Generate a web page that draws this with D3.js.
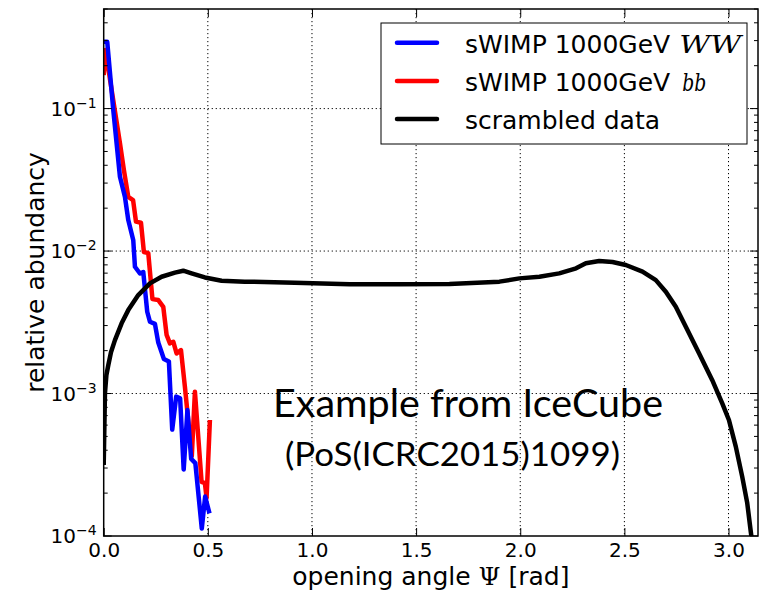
<!DOCTYPE html>
<html>
<head>
<meta charset="UTF-8">
<script src="https://d3js.org/d3.v7.min.js"></script>
<style>
  body { margin: 0; background: #fff; }
  svg { display: block; font-family: "DejaVu Sans", sans-serif; }
</style>
</head>
<body>
<svg width="763" height="593"></svg>
<script>
// opening angle (rad) and relative abundancy
const wwAngle = [0, 0.017, 0.046, 0.078, 0.102, 0.118, 0.142, 0.150, 0.174, 0.190, 0.209, 0.222, 0.246, 0.262, 0.289, 0.313, 0.329, 0.348, 0.367, 0.384, 0.402, 0.420, 0.440, 0.471, 0.487, 0.508];
const wwValue = [0.294, 0.294, 0.0975, 0.0332, 0.024, 0.0165, 0.0119, 0.00776, 0.00696, 0.00713, 0.00375, 0.00319, 0.00308, 0.00228, 0.00175, 0.00168, 0.000558, 0.000951, 0.000925, 0.000293, 0.000765, 0.000348, 0.000325, 0.000113, 0.000189, 0.000144];

const bbAngle = [0, 0.009, 0.030, 0.054, 0.078, 0.097, 0.118, 0.141, 0.155, 0.179, 0.193, 0.214, 0.234, 0.262, 0.286, 0.302, 0.318, 0.334, 0.350, 0.371, 0.390, 0.423, 0.438, 0.470, 0.486, 0.494, 0.510];
const bbValue = [0.172, 0.258, 0.161, 0.096, 0.0573, 0.037, 0.024, 0.0228, 0.0161, 0.0158, 0.00984, 0.00968, 0.0046, 0.00453, 0.00406, 0.00258, 0.00225, 0.00231, 0.00191, 0.00202, 0.00111, 0.000364, 0.00103, 0.00024, 0.000235, 0.000185, 0.000652];

const scrAngle = [0, 0.006, 0.013, 0.022, 0.035, 0.054, 0.086, 0.118, 0.166, 0.222, 0.278, 0.342, 0.382, 0.422, 0.486, 0.566, 0.677, 0.917, 1.181, 1.420, 1.660, 1.900, 1.996, 2.092, 2.187, 2.268, 2.315, 2.379, 2.443, 2.507, 2.587, 2.651, 2.699, 2.747, 2.795, 2.859, 2.922, 2.970, 3.002, 3.035, 3.066, 3.090, 3.106, 3.118];
const scrValue = [0.000315, 0.001, 0.00135, 0.00158, 0.00195, 0.00237, 0.00311, 0.00385, 0.00491, 0.00593, 0.0066, 0.00705, 0.00728, 0.00697, 0.00653, 0.00619, 0.0061, 0.006, 0.00585, 0.00584, 0.00588, 0.0061, 0.00643, 0.0066, 0.00697, 0.00756, 0.0082, 0.00851, 0.00838, 0.00798, 0.00717, 0.00625, 0.00518, 0.00406, 0.00294, 0.00191, 0.00124, 0.000853, 0.000652, 0.000424, 0.00026, 0.00017, 0.00011, 0.00008];

const xTicks = [0, 0.5, 1, 1.5, 2, 2.5, 3];
const yDecades = [1e-4, 1e-3, 1e-2, 1e-1];

const series = [
  { label: "sWIMP 1000GeV", math: "WW", mathGap: 9, mathW: 62, color: "#0000ff", angle: wwAngle, value: wwValue },
  { label: "sWIMP 1000GeV", math: "bb", mathGap: 12, mathW: 24, color: "#ff0000", angle: bbAngle, value: bbValue },
  { label: "scrambled data", math: "", color: "#000000", angle: scrAngle, value: scrValue }
];

const svg = d3.select("svg");
const L = 103.7, R = 758, T = 9, B = 536;

const x = d3.scaleLinear().domain([0, Math.PI]).range([L, R]);
const y = d3.scaleLog().domain([1e-4, 0.5]).range([B, T]);

svg.append("defs").append("clipPath").attr("id", "plotclip")
  .append("rect").attr("x", L).attr("y", T).attr("width", R - L).attr("height", B - T);

// grid
const grid = svg.append("g").attr("stroke", "#000").attr("stroke-width", 1).attr("stroke-dasharray", "1.2,2.8");
grid.selectAll(".gx").data(xTicks.filter(d => d > 0)).join("line")
  .attr("x1", d => x(d)).attr("x2", d => x(d)).attr("y1", T).attr("y2", B);
grid.selectAll(".gy").data(yDecades.filter(d => d > 1e-4)).join("line")
  .attr("x1", L).attr("x2", R).attr("y1", d => y(d)).attr("y2", d => y(d));

// curves
const line = d3.line().x(d => x(d[0])).y(d => y(d[1]));
const drawOrder = [series[1], series[0], series[2]];
svg.append("g").attr("clip-path", "url(#plotclip)")
  .selectAll("path").data(drawOrder).join("path")
  .attr("d", s => line(s.angle.map((a, i) => [a, s.value[i]])))
  .attr("fill", "none")
  .attr("stroke", s => s.color)
  .attr("stroke-width", 4.5)
  .attr("stroke-linejoin", "round");

// x axes (bottom and top), ticks inward
const xb = svg.append("g").attr("transform", `translate(0,${B})`)
  .call(d3.axisBottom(x).tickValues(xTicks).tickFormat(d3.format(".1f")).tickSizeInner(-8).tickSizeOuter(0).tickPadding(7));
const xt = svg.append("g").attr("transform", `translate(0,${T})`)
  .call(d3.axisTop(x).tickValues(xTicks).tickFormat("").tickSizeInner(-8).tickSizeOuter(0));
[xb, xt].forEach(g => {
  g.select(".domain").remove();
  g.selectAll("line").attr("stroke", "#000").attr("stroke-width", 1);
});
xb.selectAll("text").attr("font-size", 20).attr("font-family", "DejaVu Sans").attr("fill", "#000");

// y ticks: major + minor, both sides inward
const yAll = y.ticks().filter(d => d <= 0.5);
const isMajor = d => yDecades.some(v => Math.abs(v - d) / v < 1e-6);
const yt = svg.append("g").attr("stroke", "#000").attr("stroke-width", 1);
yAll.forEach(d => {
  const len = isMajor(d) ? 8 : 4;
  yt.append("line").attr("x1", L).attr("x2", L + len).attr("y1", y(d)).attr("y2", y(d));
  yt.append("line").attr("x1", R).attr("x2", R - len).attr("y1", y(d)).attr("y2", y(d));
});

// y tick labels 10^n
const ylab = svg.append("g").selectAll("text").data(yDecades).join("text")
  .attr("x", L - 7).attr("y", d => y(d) + 7)
  .attr("text-anchor", "end").attr("font-size", 20).attr("fill", "#000");
ylab.append("tspan").text("10");
ylab.append("tspan").attr("dy", -8).attr("font-size", 14).text(d => "\u2212" + Math.round(-Math.log10(d)));

// frame
svg.append("rect").attr("x", L).attr("y", T).attr("width", R - L).attr("height", B - T)
  .attr("fill", "none").attr("stroke", "#000").attr("stroke-width", 1.5);

// axis labels
const xl = svg.append("text").attr("x", (L + R) / 2 - 0).attr("y", 585)
  .attr("text-anchor", "middle").attr("font-size", 25).attr("fill", "#000");
xl.append("tspan").text("opening angle ");
xl.append("tspan").attr("font-family", "DejaVu Serif").text("\u03A8");
xl.append("tspan").text(" [rad]");

svg.append("text").attr("transform", `translate(44,${(T + B) / 2}) rotate(-90)`)
  .attr("text-anchor", "middle").attr("font-size", 25).attr("fill", "#000")
  .text("relative abundancy");

// legend
const lg = svg.append("g");
lg.append("rect").attr("x", 381).attr("y", 23).attr("width", 366).attr("height", 121)
  .attr("fill", "#fff").attr("stroke", "#000").attr("stroke-width", 1);
series.forEach((s, i) => {
  const cy = 42.7 + i * 38.2;
  lg.append("line").attr("x1", 397).attr("x2", 437).attr("y1", cy).attr("y2", cy)
    .attr("stroke", s.color).attr("stroke-width", 4.5).attr("stroke-linecap", "round");
  const t = lg.append("text").attr("x", 465).attr("y", cy + 10)
    .attr("font-size", 25).attr("fill", "#000").text(s.label);
  if (s.math) {
    const w = t.node().getComputedTextLength();
    lg.append("text").attr("x", 465 + w + s.mathGap).attr("y", cy + 10)
      .attr("font-family", "DejaVu Serif").attr("font-style", "italic")
      .attr("font-size", 25).attr("fill", "#000")
      .attr("textLength", s.mathW).attr("lengthAdjust", "spacingAndGlyphs")
      .text(s.math);
  }
});

// annotation
svg.append("text").attr("x", 273).attr("y", 417)
  .attr("font-family", "Lato, sans-serif").attr("font-size", 38).attr("fill", "#000")
  .attr("textLength", 390).attr("lengthAdjust", "spacingAndGlyphs")
  .text("Example from IceCube");
svg.append("text").attr("x", 285).attr("y", 466)
  .attr("font-family", "Lato, sans-serif").attr("font-size", 33).attr("fill", "#000")
  .attr("textLength", 335).attr("lengthAdjust", "spacingAndGlyphs")
  .text("(PoS(ICRC2015)1099)");
</script>
</body>
</html>
